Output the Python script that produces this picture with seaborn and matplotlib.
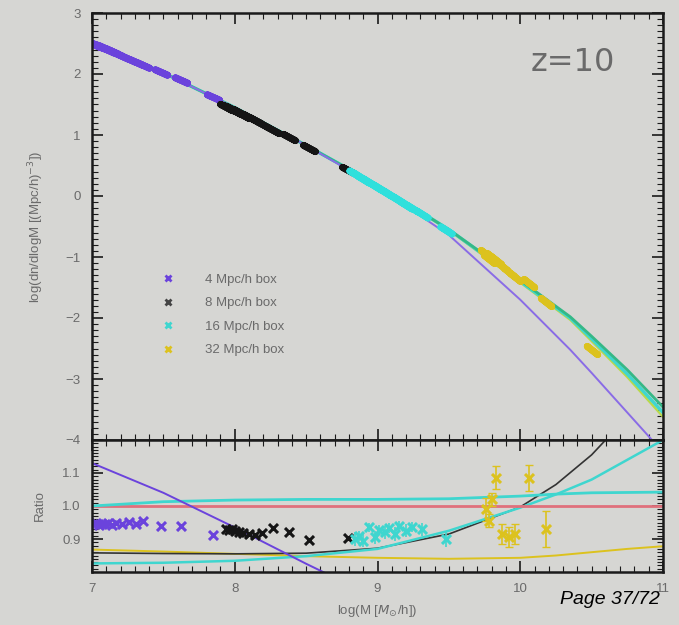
import numpy as np
import pandas as pd
import matplotlib
matplotlib.use("Agg")
import matplotlib.pyplot as plt
from matplotlib.lines import Line2D
from matplotlib.ticker import MultipleLocator
import seaborn as sns

# ---------------- data ----------------
# model curves, upper panel
curve_x = [7.0, 7.5, 8.0, 8.5, 9.0, 9.5, 10.0, 10.35, 10.5, 10.75, 11.0]
curve_green = [2.52, 2.02, 1.45, 0.83, 0.18, -0.55, -1.38, -1.98, -2.30, -2.85, -3.46]
curve_cyan = [2.52, 2.02, 1.45, 0.83, 0.18, -0.55, -1.40, -2.00, -2.34, -2.92, -3.55]
curve_lime = [2.52, 2.02, 1.45, 0.83, 0.18, -0.56, -1.42, -2.03, -2.38, -2.97, -3.62]
curve_purple = [2.52, 2.02, 1.45, 0.83, 0.15, -0.64, -1.70, -2.52, -2.90, -3.55, -4.20]

# ratio curves, lower panel
ratio_x = [7.0, 7.5, 8.0, 8.5, 9.0, 9.5, 10.0, 10.25, 10.5, 10.75, 11.0]
ratio_red = [1.0, 1.0, 1.0, 1.0, 1.0, 1.0, 1.0, 1.0, 1.0, 1.0, 1.0]
ratio_cyan_flat = [1.0, 1.013, 1.018, 1.02, 1.02, 1.022, 1.03, 1.036, 1.04, 1.041, 1.042]
ratio_teal = [0.826, 0.828, 0.834, 0.848, 0.870, 0.925, 0.995, 1.035, 1.080, 1.140, 1.200]
ratio_black = [0.858, 0.856, 0.855, 0.857, 0.872, 0.915, 0.997, 1.065, 1.155, 1.270, 1.400]
ratio_yellow = [0.868, 0.862, 0.855, 0.848, 0.843, 0.840, 0.843, 0.850, 0.860, 0.870, 0.878]
ratio_purple_x = [7.0, 7.5, 8.0, 8.5, 9.0]
ratio_purple = [1.13, 1.04, 0.935, 0.825, 0.72]

# simulation points: 4 Mpc/h box
box4_x = [7.01, 7.03, 7.05, 7.07, 7.09, 7.11, 7.14, 7.17, 7.21, 7.26, 7.31, 7.36, 7.48, 7.62, 7.85]
box4_top = [2.50, 2.48, 2.46, 2.44, 2.42, 2.40, 2.37, 2.34, 2.30, 2.25, 2.20, 2.15, 2.03, 1.90, 1.62]
box4_ratio = [0.945, 0.948, 0.943, 0.946, 0.944, 0.947, 0.942, 0.948, 0.944, 0.952, 0.946, 0.955,
              0.938, 0.938, 0.912]
# 8 Mpc/h box
box8_x = [7.94, 7.96, 7.98, 8.00, 8.03, 8.06, 8.10, 8.14, 8.19, 8.27, 8.38, 8.52, 8.79]
box8_top = [1.46, 1.44, 1.42, 1.40, 1.37, 1.33, 1.29, 1.24, 1.18, 1.09, 0.97, 0.79, 0.42]
box8_ratio = [0.930, 0.928, 0.931, 0.925, 0.922, 0.918, 0.915, 0.912, 0.918, 0.933, 0.922, 0.897, 0.903]
# 16 Mpc/h box
box16_x = [8.84, 8.87, 8.90, 8.94, 8.98, 9.01, 9.05, 9.08, 9.12, 9.15, 9.20, 9.24, 9.31, 9.48]
box16_top = [0.36, 0.32, 0.28, 0.23, 0.17, 0.13, 0.07, 0.03, -0.03, -0.07, -0.14, -0.19, -0.30, -0.56]
box16_ratio = [0.900, 0.910, 0.895, 0.935, 0.905, 0.927, 0.920, 0.933, 0.915, 0.940, 0.925, 0.936,
               0.930, 0.900]
box16_err = [0.02, 0.015, 0.02, 0.015, 0.02, 0.015, 0.02, 0.015, 0.02, 0.015, 0.02, 0.015, 0.02, 0.025]
# 32 Mpc/h box
box32_x = [9.76, 9.78, 9.80, 9.83, 9.87, 9.92, 9.96, 10.06, 10.18, 10.50]
box32_top = [-0.95, -1.03, -1.00, -1.05, -1.15, -1.25, -1.32, -1.43, -1.74, -2.52]
box32_ratio = [0.990, 0.955, 1.020, 1.085, 0.915, 0.905, 0.915, 1.085, 0.930, 0.650]
box32_err = [0.035, 0.02, 0.02, 0.035, 0.03, 0.03, 0.03, 0.04, 0.055, 0.05]

legend_labels = ["4 Mpc/h box", "8 Mpc/h box", "16 Mpc/h box", "32 Mpc/h box"]
x_ticks = [7, 8, 9, 10, 11]
top_yticks = [-4, -3, -2, -1, 0, 1, 2, 3]
ratio_yticks = [0.9, 1.0, 1.1]

# ---------------- style ----------------
BG = "#d6d6d3"
TXT = "#6a6a6a"
C_PURPLE = "#6b43dc"
C_BLACK = "#151515"
C_CYAN = "#3fd6cf"
C_YELLOW = "#dcc21e"
C_GREEN = "#35b886"
C_LIME = "#b9d94a"
C_RED = "#e0707c"
C_LPURPLE = "#8a6ce6"

sns.set_theme(style="ticks")
plt.rcParams["font.family"] = ["Liberation Sans", "DejaVu Sans"]
plt.rcParams["figure.facecolor"] = BG
plt.rcParams["axes.facecolor"] = BG

fig = plt.figure(figsize=(6.79, 6.25), dpi=100)
ax = fig.add_axes([92 / 679, 1 - 440 / 625, 571 / 679, 427 / 625])
axr = fig.add_axes([92 / 679, 1 - 572 / 625, 571 / 679, 132 / 625], sharex=ax)

# ---------------- upper panel ----------------
sns.lineplot(x=curve_x, y=curve_lime, ax=ax, color=C_LIME, lw=1.6)
sns.lineplot(x=curve_x, y=curve_cyan, ax=ax, color=C_CYAN, lw=2.4)
sns.lineplot(x=curve_x, y=curve_green, ax=ax, color=C_GREEN, lw=2.0)
sns.lineplot(x=curve_x, y=curve_purple, ax=ax, color=C_LPURPLE, lw=1.4)

# short thick dashes along the curve (rotated line markers)
for xs, ys, c, ang in [(box4_x, box4_top, C_PURPLE, 66), (box8_x, box8_top, C_BLACK, 62),
                       (box16_x, box16_top, "#2fe0dc", 58), (box32_x, box32_top, C_YELLOW, 52)]:
    sns.scatterplot(x=xs, y=ys, ax=ax, color=c, marker=(2, 2, ang), s=90, linewidth=5,
                    legend=False, zorder=4)

ax.set_xlim(7, 11)
ax.set_ylim(-4, 3)
ax.set_yticks(top_yticks)
ax.yaxis.set_minor_locator(MultipleLocator(0.1))
ax.xaxis.set_minor_locator(MultipleLocator(0.1))
ax.tick_params(axis="x", labelbottom=False)
ax.set_ylabel("log(dn/dlogM [(Mpc/h)$^{-3}$])", color=TXT, fontsize=9.5, labelpad=14)
ax.text((615 - 92) / 571, 0.885, "z=10", transform=ax.transAxes, ha="right", va="center",
        fontsize=23, color=TXT, family=["DejaVu Sans"])

handles = [Line2D([], [], ls="none", marker="x", color=c, markersize=5, mew=2)
           for c in [C_PURPLE, "#444444", C_CYAN, C_YELLOW]]
leg = ax.legend(handles, legend_labels, loc="upper left", bbox_to_anchor=(0.11, 0.405),
                frameon=False, fontsize=9.5, handlelength=1.0, handletextpad=2.3,
                labelspacing=0.85, borderpad=0)
for t in leg.get_texts():
    t.set_color(TXT)

# ---------------- ratio panel ----------------
sns.lineplot(x=ratio_x, y=ratio_yellow, ax=axr, color=C_YELLOW, lw=1.4)
sns.lineplot(x=ratio_x, y=ratio_black, ax=axr, color="#333333", lw=1.2)
sns.lineplot(x=ratio_x, y=ratio_teal, ax=axr, color=C_CYAN, lw=1.8)
sns.lineplot(x=ratio_x, y=ratio_red, ax=axr, color=C_RED, lw=2.0)
sns.lineplot(x=ratio_x, y=ratio_cyan_flat, ax=axr, color=C_CYAN, lw=2.0)
sns.lineplot(x=ratio_purple_x, y=ratio_purple, ax=axr, color=C_PURPLE, lw=1.4)

axr.errorbar(box16_x, box16_ratio, yerr=box16_err, fmt="none", ecolor=C_CYAN, elinewidth=1.2,
             zorder=3)
axr.errorbar(box32_x, box32_ratio, yerr=box32_err, fmt="none", ecolor=C_YELLOW, elinewidth=1.2,
             capsize=3, zorder=3)
for xs, ys, c in [(box4_x, box4_ratio, C_PURPLE), (box8_x, box8_ratio, C_BLACK),
                  (box16_x, box16_ratio, C_CYAN), (box32_x, box32_ratio, C_YELLOW)]:
    sns.scatterplot(x=xs, y=ys, ax=axr, color=c, marker="x", s=42, linewidth=2.2, legend=False,
                    zorder=4)

axr.set_ylim(0.8, 1.2)
axr.set_yticks(ratio_yticks)
axr.set_yticklabels(["0.9", "1.0", "1.1"])
axr.yaxis.set_minor_locator(MultipleLocator(0.01))
axr.set_xticks(x_ticks)
axr.set_xticklabels([str(v) for v in x_ticks])
axr.set_ylabel("Ratio", color=TXT, fontsize=9.5, labelpad=12)
axr.set_xlabel("log(M [$M_{\\odot}$/h])", color=TXT, fontsize=9.5, labelpad=6)

for a in (ax, axr):
    for sp in a.spines.values():
        sp.set_color("#1a1a1a")
        sp.set_linewidth(1.8)
        sp.set_zorder(5)
    a.tick_params(which="both", direction="in", top=True, right=True, colors="#1a1a1a",
                  labelcolor=TXT, labelsize=9.5, pad=8)
    a.tick_params(which="major", length=8, width=1.2)
    a.tick_params(which="minor", length=4, width=0.8)

fig.text(660 / 679, 1 - 600 / 625, "Page 37/72", ha="right", va="center", fontsize=14,
         style="italic", color="black", family=["Liberation Sans", "DejaVu Sans"])

fig.savefig("out.png", dpi=100, facecolor=BG)
